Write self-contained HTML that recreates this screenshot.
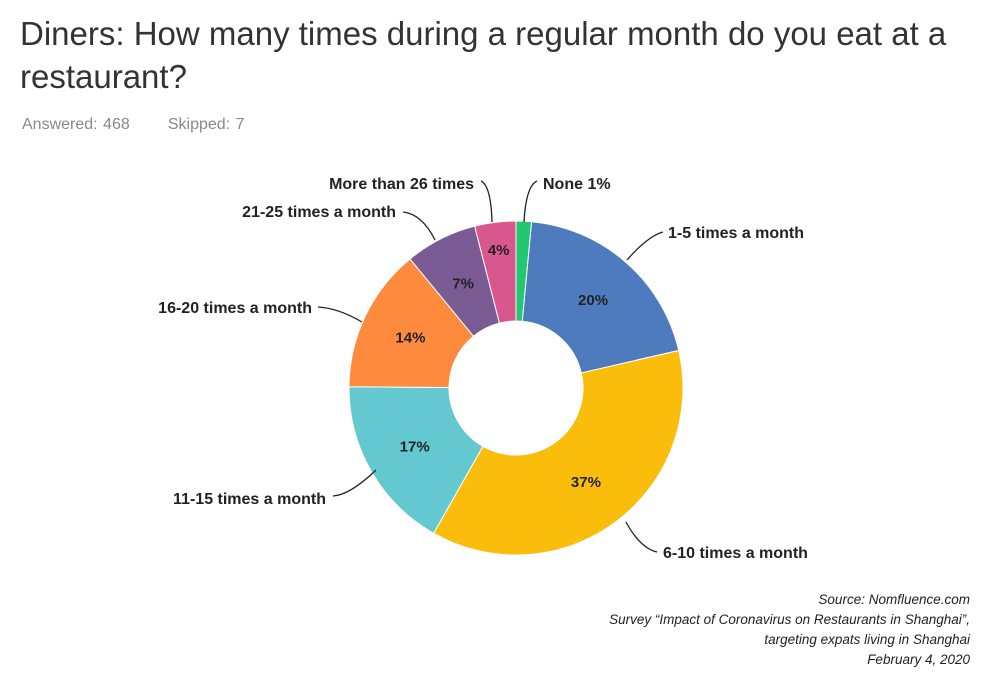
<!DOCTYPE html>
<html><head><meta charset="utf-8"><style>
body{margin:0;background:#fff;width:1000px;height:692px;overflow:hidden;font-family:"Liberation Sans",sans-serif}
#title{position:absolute;left:20px;top:12px;font-size:33px;line-height:43px;color:#333;margin:0;font-weight:normal;width:980px}
#stats{position:absolute;left:22px;top:116px;font-size:16px;color:#888;word-spacing:1px}
</style></head><body>
<h1 id="title">Diners: How many times during a regular month do you eat at a restaurant?</h1>
<div id="stats">Answered: 468 &nbsp;&nbsp;&nbsp;&nbsp;&nbsp; Skipped: 7</div>
<svg id="chart" width="1000" height="692" style="position:absolute;left:0;top:0"></svg>
<script>
const categories=["None","1-5 times a month","6-10 times a month","11-15 times a month","16-20 times a month","21-25 times a month","More than 26 times"];
const values=[1.5,20,37,17,14,7,4];
const pctLabels=["1%","20%","37%","17%","14%","7%","4%"];
const colors=["#22c770","#4e7bbd","#fbbd0b","#63c8cf","#fd8a3d","#7a5b94","#d8578c"];
const cx=516,cy=388,R=167,r=67;
const svg=document.getElementById('chart');const NS="http://www.w3.org/2000/svg";
const total=values.reduce((a,b)=>a+b,0);
function pt(a,rad){return [cx+rad*Math.sin(a),cy-rad*Math.cos(a)];}
let a0=0;
values.forEach((v,i)=>{
 const a1=a0+v/total*2*Math.PI;const large=(a1-a0)>Math.PI?1:0;
 const [x0,y0]=pt(a0,R),[x1,y1]=pt(a1,R),[x2,y2]=pt(a1,r),[x3,y3]=pt(a0,r);
 const p=document.createElementNS(NS,'path');
 p.setAttribute('d',`M${x0},${y0}A${R},${R} 0 ${large} 1 ${x1},${y1}L${x2},${y2}A${r},${r} 0 ${large} 0 ${x3},${y3}Z`);
 p.setAttribute('fill',colors[i]);p.setAttribute('stroke','#fff');p.setAttribute('stroke-width','1');
 
 
 svg.appendChild(p);
 if(i>0){const m=(a0+a1)/2;const [tx,ty]=pt(m,(R+r)/2+ (i==6?22:0));
  const t=document.createElementNS(NS,'text');t.setAttribute('x',tx);t.setAttribute('y',ty+5);
  t.setAttribute('text-anchor','middle');t.setAttribute('font-size','15');t.setAttribute('font-weight','bold');t.setAttribute('fill','#222');
  t.textContent=pctLabels[i];
  
  
  svg.appendChild(t);}
 a0=a1;
});
const outer=[
 {t:"None  1%",x:543,y:189,a:"start",l:"M537,181 Q526,186 524,222"},
 {t:"1-5 times a month",x:668,y:238,a:"start",l:"M663,232 Q648,236 627,260"},
 {t:"6-10 times a month",x:663,y:558,a:"start",l:"M657,552 Q640,548 626,522"},
 {t:"11-15 times a month",x:326,y:504,a:"end",l:"M333,496 Q350,495 376,470"},
 {t:"16-20 times a month",x:312,y:313,a:"end",l:"M318,307 Q338,308 362,322"},
 {t:"21-25 times a month",x:396,y:217,a:"end",l:"M403,212 Q422,214 435,240"},
 {t:"More than 26 times",x:474,y:189,a:"end",l:"M481,181 Q491,186 492,222"}
];
outer.forEach((o,i)=>{
 const p=document.createElementNS(NS,'path');p.setAttribute('d',o.l);p.setAttribute('fill','none');p.setAttribute('stroke','#222');p.setAttribute('stroke-width','1.3');
 
 
 svg.appendChild(p);
 const t=document.createElementNS(NS,'text');t.setAttribute('x',o.x);t.setAttribute('y',o.y);t.setAttribute('text-anchor',o.a);
 t.setAttribute('font-size','16');t.setAttribute('font-weight','bold');t.setAttribute('fill','#222');t.setAttribute('xml:space','preserve');t.textContent=o.t;
 
 
 svg.appendChild(t);
});
const src=["Source: Nomfluence.com","Survey “Impact of Coronavirus on Restaurants in Shanghai”,","targeting expats living in Shanghai","February 4, 2020"];
src.forEach((s,i)=>{const t=document.createElementNS(NS,'text');t.setAttribute('x',970);t.setAttribute('y',604+i*20);t.setAttribute('text-anchor','end');
 t.setAttribute('font-size','13.5');t.setAttribute('font-style','italic');t.setAttribute('fill','#222');t.textContent=s;
 
 
 svg.appendChild(t);});
</script>
</body></html>
